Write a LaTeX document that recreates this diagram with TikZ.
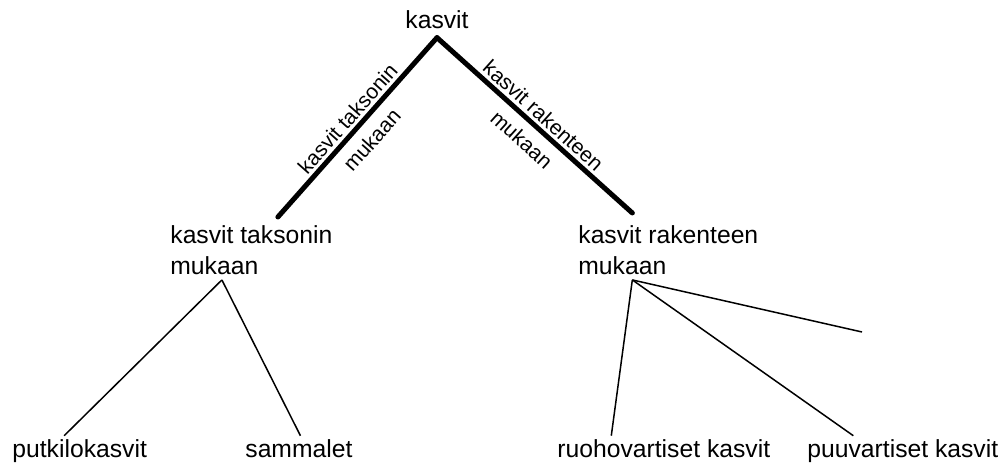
\documentclass[tikz,border=0pt]{standalone}
\usepackage{fontspec}
\setmainfont{Liberation Sans}
\usepackage{tikz}

\begin{document}
\begin{tikzpicture}[x=0.5pt,y=-0.5pt,
    lbl/.style={inner sep=4pt,font=\fontsize{12.35}{15.5}\selectfont},
    grp/.style={lbl,align=left,anchor=north west},
    leaf/.style={lbl,anchor=base west},
    thickline/.style={line width=2.5pt,line cap=round},
    thinline/.style={line width=0.75pt},
    edgelbl/.style={midway,sloped,font=\fontsize{10.5}{12.75}\selectfont},
    uplbl/.style={edgelbl,above,inner sep=1.5pt},
    downlbl/.style={edgelbl,below,inner sep=4.5pt}]
\useasboundingbox (0,0) rectangle (1002,464);

    \node[lbl,anchor=base] (kasvit) at (437,29) {kasvit};
    \node[grp] (taksonin) at (162,217) {kasvit taksonin\\mukaan};
    \node[grp] (rakenteen) at (570,217) {kasvit rakenteen\\mukaan};

    \node[leaf] (putkilo) at (4,458) {putkilokasvit};
    \node[leaf] (sammal) at (237,458) {sammalet};
    \node[leaf] (ruoho) at (549,458) {ruohovartiset kasvit};
    \node[leaf] (puu) at (799,458) {puuvartiset kasvit};
    \coordinate (loose) at (862,332);

    \draw[thickline] (kasvit.south) -- ([xshift=13.25pt]taksonin.north)
        node[uplbl] {kasvit taksonin} node[downlbl] {mukaan};
    \draw[thickline] (kasvit.south) -- ([xshift=-18pt,yshift=2pt]rakenteen.north)
        node[uplbl] {kasvit rakenteen} node[downlbl] {mukaan};

    \draw[thinline] ([xshift=-14.75pt,yshift=1.5pt]taksonin.south) -- ([xshift=-7.75pt,yshift=-2pt]putkilo.north);
    \draw[thinline] ([xshift=-14.75pt,yshift=1.5pt]taksonin.south) -- ([xshift=0.75pt,yshift=-2pt]sammal.north);
    \draw[thinline] ([xshift=-18pt,yshift=1.5pt]rakenteen.south) -- ([xshift=-26.25pt,yshift=-2pt]ruoho.north);
    \draw[thinline] ([xshift=-18pt,yshift=1.5pt]rakenteen.south) -- ([xshift=-24.75pt,yshift=-2pt]puu.north);
    \draw[thinline] ([xshift=-18pt,yshift=1.5pt]rakenteen.south) -- (loose);
\end{tikzpicture}
\end{document}
